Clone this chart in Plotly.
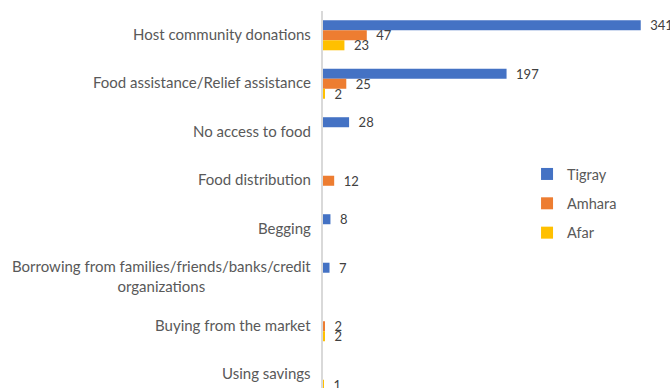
import plotly.graph_objects as go

# Coping sources for food, by region
categories = [
    "Host community donations",
    "Food assistance/Relief assistance",
    "No access to food",
    "Food distribution",
    "Begging",
    "Borrowing from families/friends/banks/credit<br>organizations",
    "Buying from the market",
    "Using savings",
]
tigray = [341, 197, 28, None, 8, 7, None, None]
amhara = [47, 25, None, 12, None, None, 2, None]
afar = [23, 2, None, None, None, None, 2, 1]

series = [
    ("Tigray", tigray, "#4472C4"),
    ("Amhara", amhara, "#ED7D31"),
    ("Afar", afar, "#FFC000"),
]

FONT = "Lato"
fig = go.Figure()
for name, vals, color in series:
    fig.add_trace(go.Bar(
        name=name,
        y=categories,
        x=vals,
        orientation="h",
        marker=dict(color=color, line=dict(width=0)),
        text=["" if v is None else "\u2002" + str(v) for v in vals],
        textposition="outside",
        textfont=dict(family=FONT, size=13, color="#404040"),
        cliponaxis=False,
        constraintext="none",
        legendgroup=name,
    ))

# Category labels, right-aligned against the axis, lines centred within a label
for c in categories:
    fig.add_annotation(
        xref="paper", x=0, yref="y", y=c,
        text=c, showarrow=False, xanchor="right", xshift=-10, yshift=1.5,
        align="center",
        font=dict(family=FONT, size=15, color="#595959"),
    )

fig.update_layout(
    width=670, height=388,
    margin=dict(l=323, r=0, t=11, b=0),
    paper_bgcolor="white", plot_bgcolor="white",
    barmode="group", bargap=0.38, bargroupgap=0.0,
    showlegend=True,
    legend=dict(
        x=0.588, y=0.61, xanchor="left", yanchor="top",
        font=dict(family=FONT, size=14.5, color="#595959"),
        tracegroupgap=7.5, bgcolor="rgba(0,0,0,0)",
    ),
    xaxis=dict(range=[0, 372.4], visible=False, fixedrange=True),
    yaxis=dict(
        type="category",
        range=[7.273, -0.5],
        showticklabels=False, showgrid=False, zeroline=False,
        showline=True, linecolor="#d9d9d9", linewidth=1.5, ticks="",
    ),
)

fig.write_html("out.html")
